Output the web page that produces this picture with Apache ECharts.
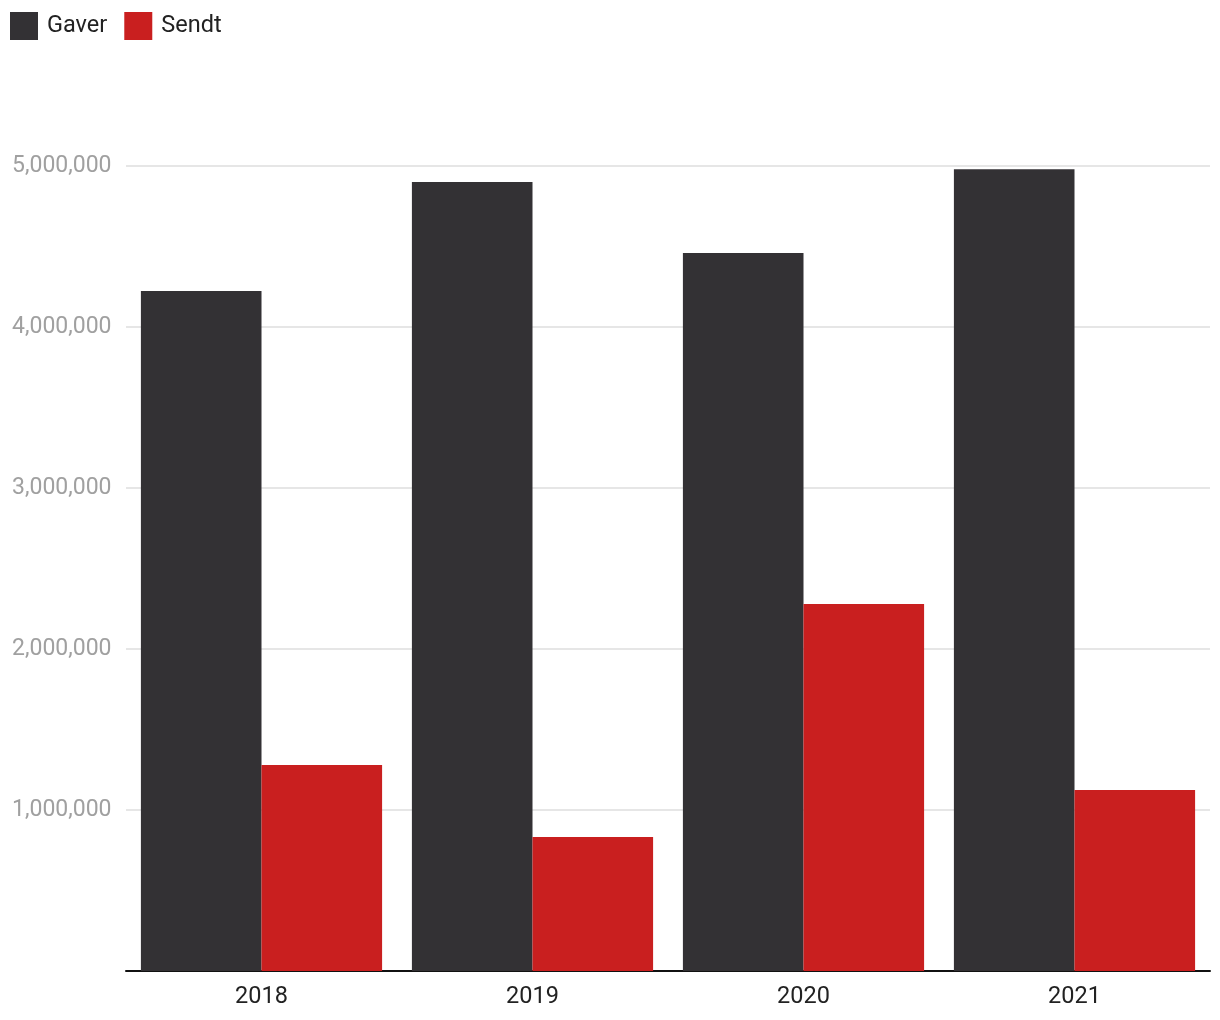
<!DOCTYPE html>
<html><head><meta charset="utf-8">
<script src="https://cdn.jsdelivr.net/npm/echarts@6/dist/echarts.min.js"></script>
<style>html,body{margin:0;padding:0;background:#fff}#c{width:1220px;height:1020px}</style>
</head><body><div id="c"></div>
<script>
const categories = ['2018', '2019', '2020', '2021'];
const gaver = [4224000, 4900000, 4460000, 4980000];
const sendt = [1280000, 832000, 2280000, 1125000];
const yTicks = [0, 1000000, 2000000, 3000000, 4000000, 5000000];

const chart = echarts.init(document.getElementById('c'));
chart.setOption({
  animation: false,
  legend: {
    left: 5, top: 7, itemWidth: 28, itemHeight: 28, itemGap: 17,
    icon: 'rect',
    textStyle: { fontFamily: 'Roboto', fontSize: 23.5, color: '#222', padding: [4, 0, 0, 4] },
    data: ['Gaver', 'Sendt']
  },
  grid: { left: 126, right: 10, top: 166, bottom: 49, containLabel: false },
  xAxis: {
    type: 'category', data: categories,
    axisLine: { lineStyle: { color: '#111', width: 2 } },
    axisTick: { show: false },
    axisLabel: { fontFamily: 'Roboto', fontSize: 23.5, color: '#222', margin: 14 }
  },
  yAxis: {
    type: 'value', min: 0, max: yTicks[yTicks.length - 1], interval: 1000000,
    axisLine: { show: false }, axisTick: { show: false },
    splitLine: { lineStyle: { color: '#e6e6e6', width: 2 } },
    axisLabel: {
      fontFamily: 'Roboto', fontSize: 23, color: '#a0a0a0', align: 'left', margin: 114,
      padding: [5, 0, 0, 0],
      formatter: v => v === 0 ? '' : v.toLocaleString('en-US')
    }
  },
  series: [
    { name: 'Gaver', type: 'bar', data: gaver, itemStyle: { color: '#333134' }, barGap: '0%', barCategoryGap: '11%' },
    { name: 'Sendt', type: 'bar', data: sendt, itemStyle: { color: '#c91f1f' }, barGap: '0%', barCategoryGap: '11%' }
  ]
});
</script></body></html>
